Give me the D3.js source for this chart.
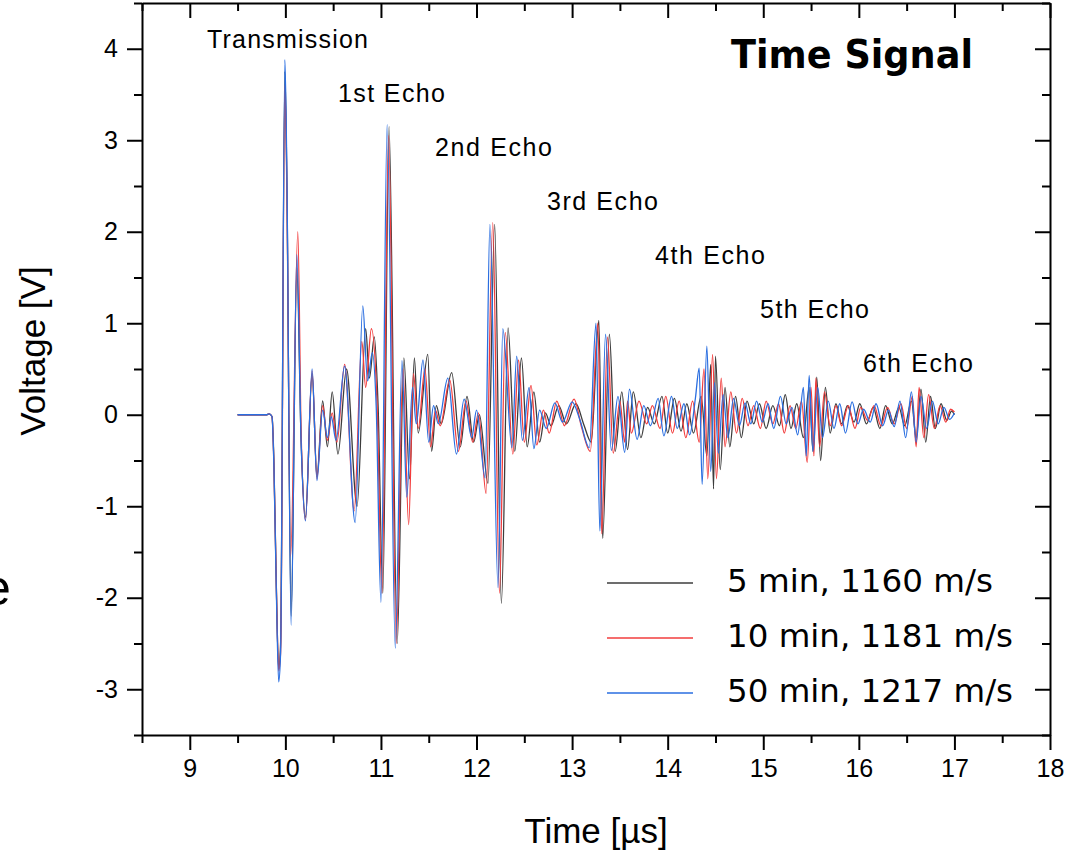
<!DOCTYPE html>
<html lang="en">
<head>
<meta charset="UTF-8">
<title>Time Signal</title>
<script src="https://d3js.org/d3.v7.min.js"></script>
<style>
  body { margin: 0; background: #fff; }
  .axis path, .axis line { stroke: #000; stroke-width: 2; }
  .axis text { font-family: 'Liberation Sans', Arial, sans-serif; font-size: 25px; fill: #000; }
  .ax-title { font-family: 'Liberation Sans', Arial, sans-serif; font-size: 35px; fill: #000; }
  .echo { font-family: 'Liberation Sans', Arial, sans-serif; font-size: 25px; fill: #000; }
  .title { font-family: 'DejaVu Sans', Verdana, sans-serif; font-size: 39px; font-weight: bold; fill: #000; }
  .legend { font-family: 'DejaVu Sans', Verdana, sans-serif; font-size: 32px; fill: #000; }
</style>
</head>
<body>
<script>
// ---- data: [time µs, voltage V] at each turning point ----
const seriesNames = ['5 min, 1160 m/s', '10 min, 1181 m/s', '50 min, 1217 m/s'];
const echoLabels = ['Transmission', '1st Echo', '2nd Echo', '3rd Echo', '4th Echo', '5th Echo', '6th Echo'];
const xTicks = [9, 10, 11, 12, 13, 14, 15, 16, 17, 18];
const yTicks = [-3, -2, -1, 0, 1, 2, 3, 4];

const signal5min = [
  [9.50, 0], [9.80, 0], [9.83, 0.01], [9.86, -0.02], [9.88, -0.5], [9.905, -1.85], [9.93, -2.78], [9.95, -2.5],
  [9.995, 3.75], [10.015, 2.6], [10.06, -2.2], [10.12, 1.6], [10.165, -0.3], [10.21, -1.12], [10.28, 0.45],
  [10.33, -0.68], [10.39, 0.15], [10.44, -0.35], [10.49, 0.25], [10.55, -0.43], [10.64, 0.5], [10.75, -1.0],
  [10.84, 0.94], [10.88, 0.4], [10.93, 0.85], [10.97, 0.1], [11.02, -1.95], [11.085, 3.15], [11.17, -2.5],
  [11.24, 0.62], [11.3, -0.7], [11.35, 0.62], [11.39, -0.2], [11.49, 0.66], [11.53, -0.4], [11.58, 0.1],
  [11.63, -0.1], [11.74, 0.46], [11.83, -0.35], [11.9, 0.2], [11.97, -0.3], [12.03, 0.0], [12.12, -0.75],
  [12.19, 2.08], [12.26, -2.06], [12.33, 0.95], [12.4, -0.4], [12.47, 0.62], [12.53, -0.35], [12.6, 0.25],
  [12.66, -0.3], [12.72, 0.02], [12.78, -0.12], [12.86, 0.1], [12.94, -0.1], [13.04, 0.12], [13.12, -0.1],
  [13.2, -0.3], [13.28, 1.03], [13.32, -1.35], [13.39, 0.88], [13.45, -0.4], [13.52, 0.25], [13.58, -0.38],
  [13.64, 0.25], [13.72, -0.25], [13.79, 0.08], [13.86, -0.1], [13.94, 0.2], [14.0, -0.2], [14.07, 0.18],
  [14.14, -0.18], [14.2, 0.12], [14.27, -0.2], [14.35, 0.2], [14.41, -0.45], [14.45, 0.55], [14.48, -0.81],
  [14.5, 0.64], [14.55, -0.6], [14.6, 0.3], [14.65, -0.35], [14.71, 0.2], [14.77, -0.25], [14.83, 0.15],
  [14.9, -0.1], [14.96, 0.12], [15.03, -0.15], [15.1, 0.1], [15.17, -0.12], [15.23, 0.22], [15.29, -0.15],
  [15.35, 0.12], [15.42, -0.25], [15.48, 0.3], [15.52, -0.4], [15.56, 0.41], [15.6, -0.5], [15.65, 0.3],
  [15.7, -0.2], [15.76, 0.12], [15.82, -0.1], [15.88, 0.1], [15.95, -0.08], [16.01, 0.12], [16.08, -0.1],
  [16.15, 0.08], [16.22, -0.15], [16.28, 0.1], [16.35, -0.1], [16.42, 0.08], [16.48, -0.12], [16.55, 0.15],
  [16.6, -0.25], [16.65, 0.28], [16.7, -0.3], [16.75, 0.2], [16.8, -0.15], [16.86, 0.12], [16.92, -0.06],
  [16.97, 0.04], [17.0, 0.0]
];

const signal10min = [
  [9.50, 0], [9.80, 0], [9.83, 0.01], [9.86, -0.02], [9.88, -0.55], [9.905, -1.85], [9.93, -2.8], [9.95, -2.6],
  [9.995, 3.6], [10.015, 2.5], [10.055, -1.55], [10.13, 2.0], [10.165, -0.2], [10.21, -1.15], [10.28, 0.48],
  [10.33, -0.7], [10.39, 0.1], [10.44, -0.28], [10.49, 0.02], [10.54, -0.3], [10.62, 0.55], [10.72, -1.05],
  [10.8, 0.8], [10.84, 0.3], [10.9, 0.94], [10.96, 0.1], [11.01, -1.95], [11.08, 3.05], [11.16, -2.5],
  [11.23, 0.5], [11.29, -1.2], [11.34, 0.45], [11.39, -0.15], [11.46, 0.5], [11.52, -0.35], [11.57, 0.05],
  [11.62, -0.12], [11.72, 0.38], [11.81, -0.4], [11.89, 0.15], [11.96, -0.3], [12.02, 0.02], [12.1, -0.86],
  [12.17, 2.1], [12.24, -1.95], [12.3, 0.9], [12.38, -0.43], [12.44, 0.6], [12.5, -0.3], [12.57, 0.32],
  [12.63, -0.33], [12.7, 0.05], [12.76, -0.2], [12.84, 0.15], [12.92, -0.12], [13.02, 0.17], [13.1, -0.14],
  [13.19, -0.4], [13.27, 1.0], [13.31, -1.3], [13.37, 0.85], [13.43, -0.42], [13.5, 0.15], [13.55, -0.3],
  [13.58, 0.15], [13.62, -0.2], [13.7, 0.15], [13.78, -0.1], [13.84, 0.1], [13.92, -0.15], [13.98, 0.2],
  [14.05, -0.2], [14.12, 0.15], [14.19, -0.25], [14.26, 0.15], [14.33, -0.3], [14.38, 0.5], [14.42, -0.7],
  [14.47, 0.66], [14.51, -0.7], [14.56, 0.4], [14.6, -0.35], [14.66, 0.25], [14.72, -0.2], [14.78, 0.18],
  [14.84, -0.12], [14.9, 0.1], [14.97, -0.15], [15.03, 0.15], [15.1, -0.1], [15.16, 0.12], [15.22, -0.2],
  [15.28, 0.1], [15.34, -0.15], [15.4, 0.15], [15.46, -0.52], [15.5, 0.3], [15.53, -0.45], [15.55, 0.4],
  [15.59, -0.35], [15.64, 0.25], [15.7, -0.12], [15.76, 0.1], [15.82, -0.12], [15.89, 0.1], [15.96, -0.15],
  [16.02, 0.08], [16.09, -0.06], [16.16, 0.1], [16.23, -0.12], [16.3, 0.08], [16.37, -0.1], [16.44, 0.12],
  [16.5, -0.15], [16.56, 0.2], [16.6, -0.35], [16.63, 0.3], [16.68, -0.25], [16.73, 0.22], [16.79, -0.15],
  [16.85, 0.1], [16.91, -0.08], [16.96, 0.06], [17.0, 0.03]
];

const signal50min = [
  [9.50, 0], [9.80, 0], [9.83, 0.01], [9.86, -0.02], [9.88, -0.55], [9.905, -1.9], [9.93, -2.92], [9.95, -2.6],
  [9.995, 3.88], [10.015, 2.7], [10.06, -2.3], [10.12, 1.75], [10.165, -0.3], [10.21, -1.16], [10.28, 0.5],
  [10.33, -0.72], [10.39, 0.05], [10.44, -0.25], [10.48, -0.02], [10.53, -0.28], [10.62, 0.53], [10.73, -1.18],
  [10.81, 1.19], [10.86, 0.37], [10.91, 0.68], [10.95, 0.1], [11.0, -2.05], [11.065, 3.17], [11.15, -2.55],
  [11.22, 0.59], [11.27, -0.9], [11.33, 0.3], [11.37, -0.1], [11.44, 0.6], [11.5, -0.3], [11.55, 0.1],
  [11.6, -0.1], [11.7, 0.4], [11.79, -0.43], [11.87, 0.17], [11.95, -0.25], [12.0, 0.05], [12.09, -0.69],
  [12.14, 2.08], [12.225, -1.89], [12.275, 0.94], [12.37, -0.36], [12.42, 0.64], [12.48, -0.28], [12.55, 0.3],
  [12.6, -0.37], [12.66, 0.05], [12.73, -0.15], [12.82, 0.13], [12.9, -0.08], [13.0, 0.14], [13.08, -0.05],
  [13.18, -0.36], [13.25, 1.0], [13.29, -1.27], [13.35, 0.88], [13.41, -0.39], [13.48, 0.2], [13.55, -0.41],
  [13.6, 0.28], [13.68, -0.27], [13.75, 0.1], [13.82, -0.12], [13.9, 0.18], [13.96, -0.23], [14.04, 0.2],
  [14.1, -0.15], [14.17, 0.12], [14.23, -0.22], [14.29, 0.18], [14.33, 0.51], [14.36, -0.76], [14.41, 0.75],
  [14.45, -0.62], [14.49, 0.35], [14.53, -0.42], [14.58, 0.22], [14.63, -0.25], [14.69, 0.18], [14.75, -0.12],
  [14.81, 0.13], [14.87, -0.1], [14.93, 0.15], [14.99, -0.08], [15.05, 0.12], [15.11, -0.15], [15.18, 0.2],
  [15.24, -0.1], [15.3, 0.08], [15.36, -0.22], [15.42, 0.3], [15.45, -0.45], [15.48, 0.43], [15.52, -0.4],
  [15.57, 0.3], [15.62, -0.25], [15.68, 0.15], [15.74, -0.15], [15.8, 0.12], [15.86, -0.2], [15.93, 0.14],
  [15.99, -0.1], [16.05, 0.06], [16.12, -0.08], [16.18, 0.12], [16.25, -0.12], [16.31, 0.05], [16.37, -0.13],
  [16.43, 0.15], [16.49, -0.25], [16.55, 0.25], [16.6, -0.3], [16.65, 0.2], [16.71, -0.15], [16.77, 0.15],
  [16.83, -0.1], [16.89, 0.08], [16.95, -0.05], [17.0, 0.02]
];

const signals = [signal5min, signal10min, signal50min];
const lineColors = ['#3c3c3c', '#f23c3c', '#2a6ee0'];

// ---- layout ----
const width = 1075, height = 856;
const plotLeft = 142, plotRight = 1050, plotTop = 3, plotBottom = 735;

const svg = d3.select('body').append('svg')
  .attr('width', width).attr('height', height);

const x = d3.scaleLinear().domain([8.5, 18]).range([plotLeft, plotRight]);
const y = d3.scaleLinear().domain([-3.5, 4.5]).range([plotBottom, plotTop]);

const xMinor = d3.range(8.5, 18, 1);
const yMinor = d3.range(-3.5, 4.6, 1);

// signal lines, clipped to plot box
svg.append('clipPath').attr('id', 'plot-clip')
  .append('rect').attr('x', plotLeft).attr('y', plotTop)
  .attr('width', plotRight - plotLeft).attr('height', plotBottom - plotTop);

const line = d3.line()
  .x(d => x(d[0]))
  .y(d => y(d[1]))
  .curve(d3.curveMonotoneX);

svg.append('g').attr('clip-path', 'url(#plot-clip)')
  .selectAll('path')
  .data(signals)
  .join('path')
  .attr('d', line)
  .attr('fill', 'none')
  .attr('stroke', (d, i) => lineColors[i])
  .attr('stroke-width', 1.3)
  .attr('stroke-linejoin', 'round');

// axes: outward ticks with labels on bottom/left, inward ticks on top/right
function drawAxis(axisFn, transform, scale, major, minor, labels) {
  const gMinor = svg.append('g').attr('class', 'axis').attr('transform', transform)
    .call(axisFn(scale).tickValues(minor).tickSize(8).tickSizeOuter(0).tickFormat(''));
  gMinor.select('.domain').remove();
  svg.append('g').attr('class', 'axis').attr('transform', transform)
    .call(axisFn(scale).tickValues(major).tickSize(15).tickSizeOuter(0)
      .tickPadding(9).tickFormat(labels ? (d => String(d)) : ''));
}

drawAxis(d3.axisBottom, `translate(0,${plotBottom})`, x, xTicks, xMinor, true);
drawAxis(d3.axisLeft, `translate(${plotLeft},0)`, y, yTicks, yMinor, true);
drawAxis(d3.axisBottom, `translate(0,${plotTop})`, x, xTicks, xMinor, false);
drawAxis(d3.axisLeft, `translate(${plotRight},0)`, y, yTicks, yMinor, false);

svg.selectAll('.axis .domain').attr('stroke-width', 2.2);

// axis titles
svg.append('text').attr('class', 'ax-title')
  .attr('x', 596).attr('y', 843).attr('text-anchor', 'middle')
  .text('Time [\u00b5s]');

svg.append('text').attr('class', 'ax-title')
  .attr('transform', 'translate(45,351) rotate(-90)')
  .attr('text-anchor', 'middle')
  .text('Voltage [V]');

// stray glyph at the left border of the source image
svg.append('text').attr('class', 'ax-title')
  .attr('x', -17).attr('y', 605).style('font-size', '50px')
  .text('e');

// title
svg.append('text').attr('class', 'title')
  .attr('x', 731).attr('y', 68)
  .attr('textLength', 242).attr('lengthAdjust', 'spacingAndGlyphs')
  .text('Time Signal');

// echo annotations
const echoPos = [
  { x: 207, y: 48, w: 161 }, { x: 338, y: 102, w: 107 }, { x: 435, y: 156, w: 117 },
  { x: 547, y: 210, w: 111 }, { x: 655, y: 264, w: 110 }, { x: 760, y: 318, w: 109 },
  { x: 863, y: 372, w: 110 }
];
svg.selectAll('.echo')
  .data(echoLabels)
  .join('text')
  .attr('class', 'echo')
  .attr('x', (d, i) => echoPos[i].x)
  .attr('y', (d, i) => echoPos[i].y)
  .attr('textLength', (d, i) => echoPos[i].w)
  .attr('lengthAdjust', 'spacing')
  .text(d => d);

// legend
const legendRowY = [583, 638, 693];
const legendTextW = [266, 286, 286];
const lg = svg.append('g');
lg.selectAll('line')
  .data(seriesNames)
  .join('line')
  .attr('x1', 607).attr('x2', 693)
  .attr('y1', (d, i) => legendRowY[i]).attr('y2', (d, i) => legendRowY[i])
  .attr('stroke', (d, i) => lineColors[i])
  .attr('stroke-width', 1.3);
lg.selectAll('text')
  .data(seriesNames)
  .join('text')
  .attr('class', 'legend')
  .attr('x', 727)
  .attr('y', (d, i) => legendRowY[i] + 9)
  .attr('textLength', (d, i) => legendTextW[i])
  .attr('lengthAdjust', 'spacingAndGlyphs')
  .text(d => d);
</script>
</body>
</html>
